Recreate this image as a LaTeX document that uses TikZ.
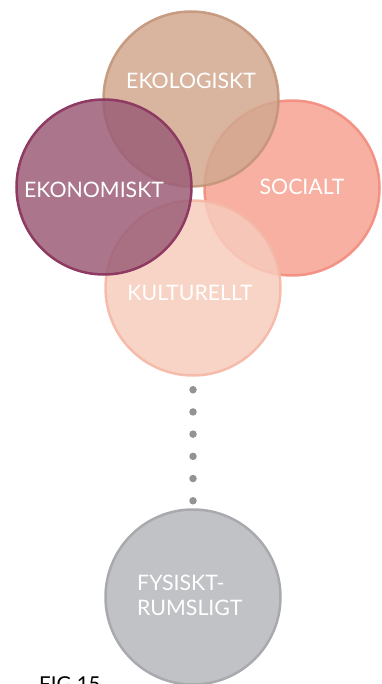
\documentclass[tikz,border=0pt]{standalone}
\usepackage{fontspec}
\setmainfont{Lato}

\definecolor{ekofill}{RGB}{210,168,143}
\definecolor{ekoline}{RGB}{196,149,122}
\definecolor{econfill}{RGB}{156,94,119}
\definecolor{econline}{RGB}{142,58,98}
\definecolor{socfill}{RGB}{246,162,144}
\definecolor{socline}{RGB}{242,140,126}
\definecolor{kultfill}{RGB}{247,204,188}
\definecolor{kultline}{RGB}{245,183,166}
\definecolor{fysfill}{RGB}{193,194,198}
\definecolor{fysline}{RGB}{169,170,174}
\definecolor{dotgray}{RGB}{147,147,150}

\tikzset{
  aspect/.style={circle, inner sep=0pt, minimum size=175pt, line width=2.5pt, fill opacity=0.85, draw opacity=0.9},
  lbl/.style={text=white, inner sep=0pt, font=\fontsize{21.3}{25}\selectfont},
}

\begin{document}
\begin{tikzpicture}[x=1pt, y=-1pt]
	\useasboundingbox (0, 0) rectangle (381, 684);
	\clip (0, 0) rectangle (381, 684);

	% the four overlapping circles
	\node[aspect, draw=socline, fill=socfill] at (292, 188) (soc) {};
	\node[aspect, draw=kultline, fill=kultfill] at (193, 288) (kult) {};
	\node[aspect, draw=ekoline, fill=ekofill] at (191, 99) (eko) {};
	\node[aspect, draw=econline, fill=econfill, draw opacity=1] at (104, 187) (econ) {};

	\node[lbl] at (191, 81) (ekotext) {EKOLOGISKT};
	\node[lbl] at (94, 190) (econtext) {EKONOMISKT};
	\node[lbl] at (302, 187) (soctext) {SOCIALT};
	\node[lbl] at (190, 293) (kulttext) {KULTURELLT};

	% the physical dimension below
	\node[aspect, draw=fysline, fill=fysfill, fill opacity=1, draw opacity=1] at (193, 597) (fys) {};
	\node[lbl, align=left, anchor=west] at (137, 595) (fystext) {FYSISKT-\\RUMSLIGT};

	% dotted link
	\draw[dotgray, line width=7.5pt, line cap=round, dash pattern=on 0pt off 22.2pt, dash phase=9.2pt]
		(kult.south) -- (fys.north);

	\node[anchor=north west, inner sep=0pt, font=\fontsize{20.5}{24}\selectfont] at (39, 676) (fig) {FIG 15};
\end{tikzpicture}
\end{document}
